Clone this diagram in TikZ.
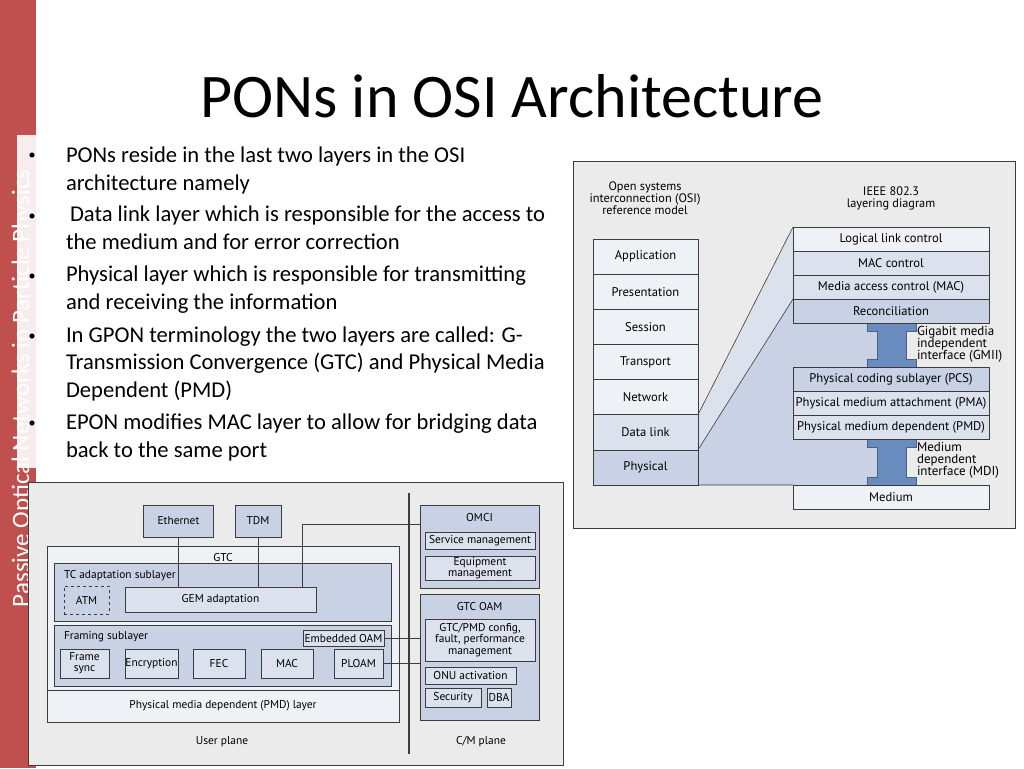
\documentclass[tikz,border=0pt]{standalone}
\usepackage{fontspec}
\setmainfont{Carlito}
\newfontfamily\diagsans{PT Sans}
\usetikzlibrary{positioning,calc}

\definecolor{slidered}{HTML}{C0504D}
\definecolor{panelgray}{HTML}{EBEBEB}
\definecolor{paleblue}{HTML}{EEF1F6}
\definecolor{lightblue}{HTML}{DBE1ED}
\definecolor{midblue}{HTML}{C8D2E4}
\definecolor{beamblue}{HTML}{6A8BBE}
\definecolor{edgegray}{HTML}{3C3C3C}

\pgfdeclarelayer{back}
\pgfdeclarelayer{mid}
\pgfsetlayers{back,mid,main}

% I-beam interface between two IEEE layers (top y, bottom y)
\newcommand\ibeam[2]{%
  \draw[beam] (867,#1) -- (916,#1) -- (916,#1+8) -- (906,#1+8) -- (906,#2-8)
    -- (916,#2-8) -- (916,#2) -- (867,#2) -- (867,#2-8) -- (877,#2-8)
    -- (877,#1+8) -- (867,#1+8) -- cycle;}

\begin{document}
\begin{tikzpicture}[x=1pt, y=-1pt,
  every node/.style={inner sep=0pt, outer sep=0pt},
  slidetext/.style={anchor=base west, align=left, font=\fontsize{22.6}{27.3}\selectfont},
  osilayer/.style={draw=edgegray, line width=0.6pt, minimum width=105pt,
    minimum height=35.14pt, font=\diagsans\fontsize{12.6}{13}\selectfont},
  ieeelayer/.style={draw=edgegray, line width=0.6pt, minimum width=196pt,
    minimum height=24pt, font=\diagsans\fontsize{12.6}{13}\selectfont},
  headtext/.style={align=center, font=\diagsans\fontsize{12.3}{11.9}\selectfont},
  beamlabel/.style={anchor=north west, align=left, font=\diagsans\fontsize{13}{12.2}\selectfont},
  beam/.style={fill=beamblue, draw=beamblue!70!black, line width=0.4pt},
  gbox/.style={draw=edgegray, line width=0.6pt, fill=lightblue, align=center,
    font=\diagsans\fontsize{11.4}{11.3}\selectfont},
  subtext/.style={anchor=north west, font=\diagsans\fontsize{11.4}{11.3}\selectfont},
  plane/.style={font=\diagsans\fontsize{11.4}{11.3}\selectfont},
  link/.style={draw=edgegray, line width=0.6pt}]

\useasboundingbox (0,0) rectangle (1024,768);
\begin{pgfonlayer}{back}
  \fill[white] (0,0) rectangle (1024,768);
\end{pgfonlayer}

%% side bar
\fill[slidered] (0,0) rectangle (36,768);
\node[rotate=90, anchor=base west, text=white, font=\fontsize{25}{25}\selectfont]
  (sidetitle) at (29,607) {Passive Optical Networks in Particle Physics};
\fill[white, opacity=0.9] (17,135) rectangle (36,468);

%% title and bullets
\node[anchor=base, font=\fontsize{62}{62}\selectfont] (title) at (512,117) {PONs in OSI Architecture};
\foreach \yb in {155,216,276,336,423}
  \fill (32,\yb) circle (2.6);
\node[slidetext] (pt1) at (66,190) {PONs reside in the last two layers in the OSI\\architecture namely};
\node[slidetext] (pt2) at (66,249) {\hspace*{4pt}Data link layer which is responsible for the access to\\the medium and for error correction};
\node[slidetext] (pt3) at (66,309) {Physical layer which is responsible for transmitting\\and receiving the information};
\node[slidetext] (pt4) at (66,397) {In GPON terminology the two layers are called: G-\\Transmission Convergence (GTC) and Physical Media\\Dependent (PMD)};
\node[slidetext] (pt5) at (66,457) {EPON modifies MAC layer to allow for bridging data\\back to the same port};

%% OSI vs IEEE 802.3 panel
\begin{pgfonlayer}{back}
  \draw[edgegray, fill=panelgray, line width=0.8pt] (573,161) rectangle (1015,528);
\end{pgfonlayer}
\node[headtext] (osihead) at (645,198) {Open systems\\interconnection (OSI)\\reference model};
\node[headtext] (ieeehead) at (891,198) {IEEE 802.3\\layering diagram};
\foreach \name/\txt/\col [count=\i from 0] in {app/Application/paleblue,
    pres/Presentation/paleblue, sess/Session/paleblue, trans/Transport/paleblue,
    net/Network/paleblue, dlink/Data link/lightblue, phys/Physical/midblue}
  \node[osilayer, fill=\col] (\name) at (645.5,{256.6+35.14*\i}) {\txt};
\ibeam{323}{367}
\ibeam{439}{485}
\foreach \name/\txt/\col/\yc in {llc/Logical link control/paleblue/239,
    macctl/MAC control/lightblue/263, mac/Media access control (MAC)/lightblue/287,
    recon/Reconciliation/midblue/311, pcs/Physical coding sublayer (PCS)/midblue/379,
    pma/Physical medium attachment (PMA)/lightblue/403,
    pmd/Physical medium dependent (PMD)/lightblue/427, medium/Medium/paleblue/497}
  \node[ieeelayer, fill=\col] (\name) at (891,\yc) {\txt};
\begin{pgfonlayer}{mid}
  \fill[lightblue] (dlink.north east) -- (llc.north west) -- (recon.north west) -- (dlink.south east) -- cycle;
  \fill[midblue] (phys.north east) -- (recon.north west) -- (recon.north)
    -- (recon.north |- phys.south) -- (phys.south east) -- cycle;
\end{pgfonlayer}
\draw[link] (dlink.north east) -- (llc.north west);
\draw[link] (dlink.south east) -- (recon.north west);
\draw[link] (phys.south east) -- (medium.north west);
\node[beamlabel] (gmii) at (917,326) {Gigabit media\\independent\\interface (GMII)};
\node[beamlabel] (mdi) at (917,442) {Medium\\dependent\\interface (MDI)};

%% GPON protocol stack panel
\draw[edgegray, fill=panelgray, line width=0.8pt] (28,482) rectangle (563,765);
\draw[edgegray, line width=1.8pt] (409,493) -- (409,754);
\node[gbox, fill=midblue, minimum width=70, minimum height=32] (eth) at (178.5,521) {Ethernet};
\node[gbox, fill=midblue, minimum width=46, minimum height=32] (tdm) at (258,521) {TDM};
\node[gbox, fill=paleblue, minimum width=352, minimum height=176] (gtc) at (223,634) {};
\node[plane, anchor=north] (gtclbl) at ([yshift=-7pt]gtc.north) {GTC};
\node[gbox, fill=paleblue, minimum width=352, minimum height=32, anchor=south] (pmdlayer) at (gtc.south)
  {Physical media dependent (PMD) layer};
\node[gbox, fill=midblue, minimum width=337, minimum height=58] (tcad) at (222.5,592) {};
\node[subtext] (tclbl) at ([xshift=10pt, yshift=-7pt]tcad.north west) {TC adaptation sublayer};
\node[gbox, dashed, fill=midblue, minimum width=45, minimum height=28] (atm) at (86.5,600) {ATM};
\node[gbox, minimum width=191, minimum height=25] (gem) at (220.5,600) {GEM adaptation};
\node[gbox, fill=midblue, minimum width=337, minimum height=61] (framing) at (222.5,655.5) {};
\node[subtext] (frlbl) at ([xshift=10pt, yshift=-6pt]framing.north west) {Framing sublayer};
\node[gbox, minimum width=81, minimum height=16] (emboam) at (343.5,638) {Embedded OAM};
\foreach \name/\txt/\xc/\w in {fsync/{Frame\\sync}/84.5/49, encr/Encryption/151.5/53,
    fec/FEC/219/52, macblk/MAC/287/52, ploam/PLOAM/358.5/49}
  \node[gbox, minimum width=\w, minimum height=29] (\name) at (\xc,663.5) {\txt};

\node[gbox, fill=midblue, minimum width=119, minimum height=83] (omci) at (479.5,546.5) {};
\node[plane, anchor=north] (omcilbl) at ([yshift=-8pt]omci.north) {OMCI};
\node[gbox, minimum width=110, minimum height=17] (svcmgmt) at (480,540.5) {Service management};
\node[gbox, minimum width=110, minimum height=24] (eqmgmt) at (480,568) {Equipment\\management};
\node[gbox, fill=midblue, minimum width=119, minimum height=126] (gtcoam) at (479.5,657) {};
\node[plane, anchor=north] (oamlbl) at ([yshift=-8pt]gtcoam.north) {GTC OAM};
\node[gbox, minimum width=110, minimum height=42] (gtcpmd) at (480,640) {GTC/PMD config,\\fault, performance\\management};
\node[gbox, minimum width=91, minimum height=17] (onuact) at (470.5,675.5) {ONU activation};
\node[gbox, minimum width=56, minimum height=19] (secur) at (453,697.5) {Security};
\node[gbox, minimum width=24, minimum height=19] (dba) at (499,697.5) {DBA};
\node[plane] (userplane) at (222,742) {User plane};
\node[plane] (cmplane) at (481,742) {C/M plane};

\draw[link] (eth.south) -- (eth.south |- gem.north);
\draw[link] (tdm.south) -- (tdm.south |- gem.north);
\draw[link] ([yshift=-19pt]omci.north west) -| ([xshift=82pt]gem.north);
\draw[link] (emboam.east) -- (emboam.east -| gtcoam.west);
\draw[link] (ploam.east) -- (ploam.east -| gtcoam.west);
\end{tikzpicture}
\end{document}
